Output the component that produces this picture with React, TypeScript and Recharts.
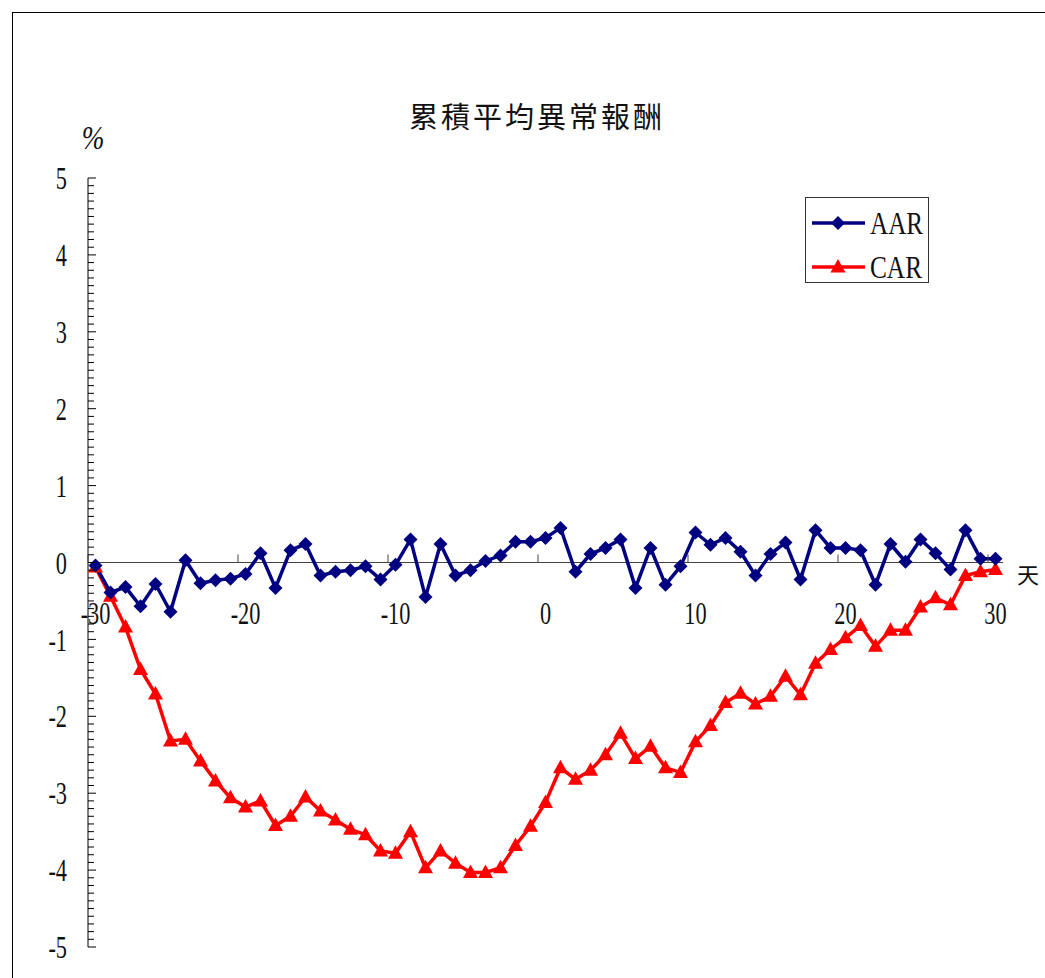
import React from "react"
import {
  LineChart,
  Line,
  XAxis,
  YAxis,
  ReferenceLine,
  Legend
} from "recharts"

// event window, days relative to the announcement
const days = Array.from({ length: 61 }, (_, i) => i - 30)

// average abnormal return per day (%)
const aar = [
  -0.04, -0.39, -0.32, -0.57, -0.28, -0.64, 0.03, -0.27, -0.23, -0.21,
  -0.15, 0.12, -0.33, 0.16, 0.24, -0.17, -0.12, -0.1, -0.05, -0.22,
  -0.03, 0.3, -0.45, 0.24, -0.17, -0.1, 0.02, 0.09, 0.27, 0.27,
  0.32, 0.45, -0.12, 0.11, 0.19, 0.3, -0.33, 0.19, -0.29, -0.05,
  0.39, 0.23, 0.32, 0.14, -0.17, 0.11, 0.26, -0.22, 0.42, 0.19,
  0.19, 0.16, -0.29, 0.24, 0.01, 0.3, 0.12, -0.09, 0.42, 0.05,
  0.05
]

// cumulative abnormal return (%)
const car = [
  -0.06, -0.44, -0.84, -1.39, -1.71, -2.32, -2.3, -2.58, -2.84, -3.06,
  -3.18, -3.1, -3.42, -3.3, -3.05, -3.23, -3.35, -3.47, -3.54, -3.75,
  -3.78, -3.5, -3.97, -3.75, -3.91, -4.03, -4.03, -3.97, -3.68, -3.43,
  -3.12, -2.67, -2.82, -2.7, -2.5, -2.22, -2.55, -2.39, -2.67, -2.73,
  -2.33, -2.12, -1.82, -1.7, -1.84, -1.74, -1.48, -1.72, -1.31, -1.13,
  -0.98, -0.82, -1.09, -0.88, -0.88, -0.58, -0.46, -0.55, -0.17, -0.12,
  -0.09
]

const xTicks = [-30, -20, -10, 0, 10, 20, 30]
const yTicks = Array.from({ length: 101 }, (_, i) => (i - 50) / 10)

const data = days.map((day, i) => ({ day, AAR: aar[i], CAR: car[i] }))

const W = 1045
const H = 978
const LEFT = 88
const RIGHT = 1003
const TOP = 178
const BOTTOM = 947
const ZERO_Y = TOP + (BOTTOM - TOP) / 2
const HALF_DAY = (RIGHT - LEFT) / 61 / 2

const NAVY = "#000080"
const RED = "#ff0000"
const SERIF = "'Liberation Serif', 'DejaVu Serif', serif"
const CJK = "'Noto Sans CJK TC', 'Noto Sans CJK SC', sans-serif"

const Diamond = ({ cx, cy }: any) => (
  <path
    key={`d-${cx}`}
    d={`M${cx},${cy - 7}L${cx + 7},${cy}L${cx},${cy + 7}L${cx - 7},${cy}Z`}
    fill={NAVY}
  />
)

const Triangle = ({ cx, cy }: any) => (
  <path
    key={`t-${cx}`}
    d={`M${cx},${cy - 8}L${cx + 7.5},${cy + 5.5}L${cx - 7.5},${cy + 5.5}Z`}
    fill={RED}
  />
)

// y axis: minor tick every 0.1, longer tick and label on whole numbers
const YTick = ({ y, payload }: any) => {
  const v = payload.value
  const whole = Math.abs(v - Math.round(v)) < 1e-6
  return (
    <g>
      <line x1={LEFT} x2={LEFT + (whole ? 8 : 6)} y1={y} y2={y} stroke="#000" />
      {whole && (
        <text
          transform={`translate(67,${y}) scale(0.72,1)`}
          textAnchor="end"
          dy="0.36em"
          fontFamily={SERIF}
          fontSize={31}
          fill="#111"
        >
          {Math.round(v)}
        </text>
      )}
    </g>
  )
}

// x axis sits on y = 0; tick marks fall between days, labels on the day
const XTick = ({ x, payload }: any) => (
  <g>
    <line
      x1={x - HALF_DAY}
      x2={x - HALF_DAY}
      y1={ZERO_Y}
      y2={ZERO_Y - 8}
      stroke="#444"
    />
    <text
      transform={`translate(${x},${ZERO_Y + 50}) scale(0.72,1)`}
      textAnchor="middle"
      dy="0.36em"
      fontFamily={SERIF}
      fontSize={31}
      fill="#111"
    >
      {payload.value}
    </text>
  </g>
)

const LegendBox = () => (
  <svg width={124} height={86} style={{ display: "block", overflow: "visible" }}>
    <rect x={0.5} y={0.5} width={123} height={85} fill="#fff" stroke="#333" />
    <line x1={7} x2={60} y1={26} y2={26} stroke={NAVY} strokeWidth={3.5} />
    <Diamond cx={33} cy={26} />
    <text
      x={65}
      y={26}
      dy="0.36em"
      textLength={53}
      lengthAdjust="spacingAndGlyphs"
      fontFamily={SERIF}
      fontSize={31}
      fill="#111"
    >
      AAR
    </text>
    <line x1={7} x2={60} y1={70} y2={70} stroke={RED} strokeWidth={3.5} />
    <Triangle cx={33} cy={70} />
    <text
      x={65}
      y={70}
      dy="0.36em"
      textLength={52}
      lengthAdjust="spacingAndGlyphs"
      fontFamily={SERIF}
      fontSize={31}
      fill="#111"
    >
      CAR
    </text>
  </svg>
)

export default function App() {
  return (
    <div
      style={{
        position: "absolute",
        left: 0,
        top: 0,
        width: W,
        height: H,
        overflow: "hidden",
        background: "#fff"
      }}
    >
      <div
        style={{
          position: "absolute",
          left: 12,
          top: 12,
          width: W + 40,
          height: H + 40,
          border: "1px solid #000"
        }}
      />

      <div style={{ position: "absolute", left: 0, top: 0 }}>
        <LineChart
          width={W}
          height={H}
          data={data}
          margin={{ top: TOP, right: W - RIGHT, bottom: H - BOTTOM - 1, left: LEFT - 1 }}
        >
          <XAxis
            type="number"
            dataKey="day"
            domain={[-30.5, 30.5]}
            ticks={xTicks}
            interval={0}
            height={1}
            axisLine={false}
            tickLine={false}
            tick={<XTick />}
          />
          <YAxis
            type="number"
            domain={[-5, 5]}
            ticks={yTicks}
            interval={0}
            width={1}
            axisLine={{ stroke: "#000" }}
            tickLine={false}
            tick={<YTick />}
          />
          <ReferenceLine y={0} stroke="#444" />
          <Legend
            layout="vertical"
            align="center"
            verticalAlign="middle"
            content={<LegendBox />}
            wrapperStyle={{ left: 805, top: 197, width: 124, height: 86 }}
          />
          <Line
            dataKey="CAR"
            stroke={RED}
            strokeWidth={3.5}
            dot={Triangle}
            isAnimationActive={false}
          />
          <Line
            dataKey="AAR"
            stroke={NAVY}
            strokeWidth={3.5}
            dot={Diamond}
            isAnimationActive={false}
          />
        </LineChart>
      </div>

      <svg
        width={W}
        height={H}
        style={{ position: "absolute", left: 0, top: 0, pointerEvents: "none" }}
      >
        <text
          x={537}
          y={128}
          textAnchor="middle"
          fontFamily={CJK}
          fontSize={29}
          letterSpacing={3}
          fill="#111"
        >
          累積平均異常報酬
        </text>
        <text
          transform="translate(93,149) scale(0.8,1)"
          textAnchor="middle"
          fontFamily={SERIF}
          fontStyle="italic"
          fontSize={34}
          fill="#111"
        >
          %
        </text>
        <text
          x={1028}
          y={583}
          textAnchor="middle"
          fontFamily={CJK}
          fontSize={22}
          fill="#111"
        >
          天
        </text>
      </svg>
    </div>
  )
}
